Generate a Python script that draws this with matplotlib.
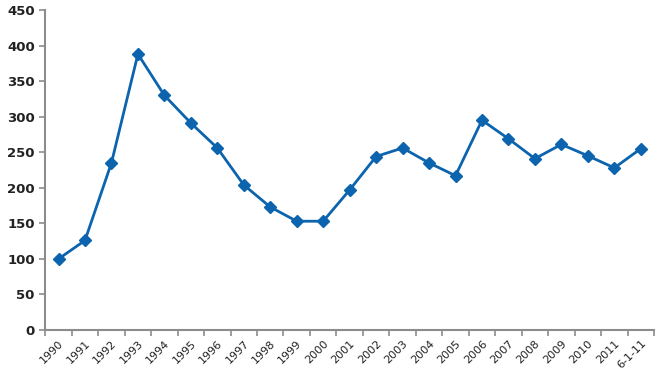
import numpy as np
import matplotlib.pyplot as plt

# data
labels = ["1990", "1991", "1992", "1993", "1994", "1995", "1996", "1997",
          "1998", "1999", "2000", "2001", "2002", "2003", "2004", "2005",
          "2006", "2007", "2008", "2009", "2010", "2011", "6-1-11"]
values = [100, 126, 235, 388, 330, 291, 256, 204, 173, 153, 153, 197,
          244, 256, 235, 217, 295, 269, 241, 261, 245, 228, 255]

line_color = "#0b64ad"
axis_color = "#8c8c8c"

fig = plt.figure(figsize=(6.66, 3.70), dpi=100)
ax = fig.add_axes([0.068, 0.108, 0.914, 0.865])

x = np.arange(len(labels))
ax.plot(x, values, "-D", color=line_color, lw=2, ms=6.5, mec=line_color)

ax.set_xlim(-0.5, len(labels) - 0.5)
ax.set_ylim(0, 450)
ax.set_yticks(range(0, 451, 50))

# labels at centres, tick marks at category boundaries
ax.set_xticks(x)
ax.set_xticklabels(labels, rotation=45, ha="right", rotation_mode="anchor",
                   fontsize=8, color="#222222")
ax.set_xticks(np.arange(-0.5, len(labels)), minor=True)
ax.tick_params(axis="x", which="major", length=0, pad=6)
ax.tick_params(axis="x", which="minor", length=4, color=axis_color, width=1.2)
ax.tick_params(axis="y", length=4, color=axis_color, width=1.2,
               labelsize=9.5, labelcolor="#222222")
for t in ax.get_yticklabels():
    t.set_fontweight("bold")

for s in ["top", "right"]:
    ax.spines[s].set_visible(False)
for s in ["left", "bottom"]:
    ax.spines[s].set_color(axis_color)
    ax.spines[s].set_linewidth(1.5)

fig.savefig("out.png", dpi=100)
